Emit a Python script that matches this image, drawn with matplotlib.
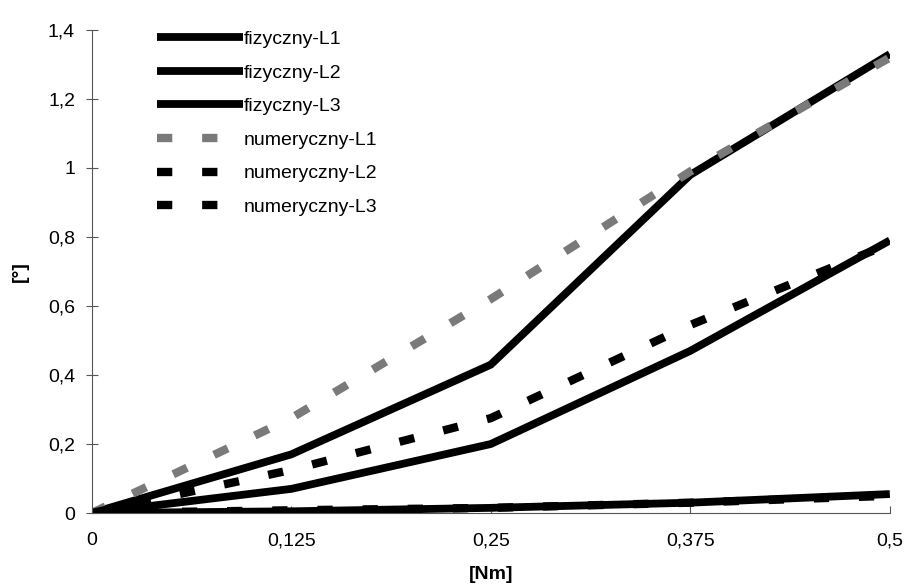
import numpy as np
import matplotlib
matplotlib.use("Agg")
import matplotlib.pyplot as plt

####################################################################

moment = [0, 0.125, 0.25, 0.375, 0.5]  # [Nm]

fiz_L1 = [0, 0.17, 0.43, 0.98, 1.33]
fiz_L2 = [0, 0.07, 0.20, 0.47, 0.79]
fiz_L3 = [0, 0.005, 0.015, 0.03, 0.055]

num_L1 = [0, 0.275, 0.62, 0.99, 1.32]
num_L2 = [0, 0.125, 0.275, 0.545, 0.78]
num_L3 = [0, 0.008, 0.015, 0.03, 0.05]

xticks = [0, 0.125, 0.25, 0.375, 0.5]
xtick_labels = ["0", "0,125", "0,25", "0,375", "0,5"]
yticks = [0, 0.2, 0.4, 0.6, 0.8, 1.0, 1.2, 1.4]
ytick_labels = ["0", "0,2", "0,4", "0,6", "0,8", "1", "1,2", "1,4"]

####################################################################

plt.rcParams["font.family"] = ["Liberation Sans", "DejaVu Sans"]
plt.rcParams["lines.scale_dashes"] = False

fig = plt.figure(figsize=(9.08, 5.87), dpi=100)
ax = fig.add_axes([0.101, 0.126, 0.879, 0.823])

solid = dict(color="black", lw=5.6, solid_capstyle="butt", solid_joinstyle="miter")
dash = dict(lw=6.0, dashes=(11, 21.5), dash_capstyle="butt")

ax.plot(moment, fiz_L1, label="fizyczny-L1", **solid)
ax.plot(moment, fiz_L2, label="fizyczny-L2", **solid)
ax.plot(moment, fiz_L3, label="fizyczny-L3", **solid)
ax.plot(moment, num_L1, label="numeryczny-L1", color="#7a7a7a", **dash)
ax.plot(moment, num_L2, label="numeryczny-L2", color="black", **dash)
ax.plot(moment, num_L3, label="numeryczny-L3", color="black", **dash)

ax.set_xlim(0, 0.5)
ax.set_ylim(0, 1.4)
ax.set_xticks(xticks)
ax.set_xticklabels(xtick_labels)
ax.set_yticks(yticks)
ax.set_yticklabels(ytick_labels)

for side in ["top", "right"]:
    ax.spines[side].set_visible(False)
for side in ["left", "bottom"]:
    ax.spines[side].set_color("#555555")
    ax.spines[side].set_linewidth(0.8)

ax.tick_params(axis="y", direction="inout", length=8, width=0.8, color="#555555",
               labelsize=14, pad=8)
ax.tick_params(axis="x", direction="in", length=5, width=0.8, color="#555555",
               labelsize=14, pad=14)

ax.set_xlabel("[Nm]", fontsize=14, fontweight="bold", labelpad=12)
ax.set_ylabel("[°]", fontsize=14, fontweight="bold", labelpad=14)

ax.legend(loc="upper left", bbox_to_anchor=(0.06, 1.035), frameon=False, fontsize=14,
          handlelength=4.4, handletextpad=0.05, labelspacing=0.82)

fig.savefig("out.png", dpi=100)
